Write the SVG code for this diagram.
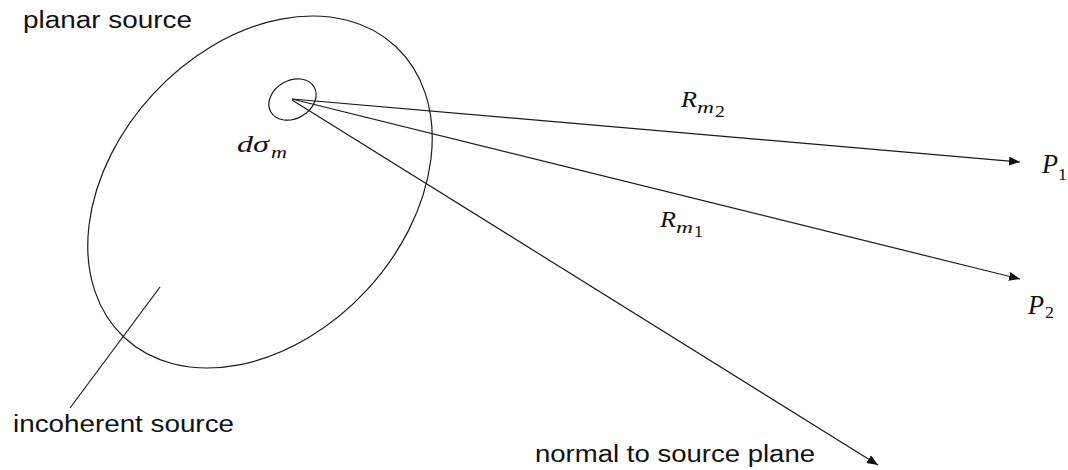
<svg xmlns="http://www.w3.org/2000/svg" width="1068" height="470" viewBox="0 0 1068 470">
<defs>
<style>
.ln{fill:none;stroke:#1a1a1a;stroke-width:1.2}
.lbl{font-family:"Liberation Sans",Arial,sans-serif;font-size:23px;fill:#111}
.m{font-family:"Liberation Serif","Times New Roman",serif;font-style:italic;font-size:24px;fill:#111}
.pm{font-family:"Liberation Serif","Times New Roman",serif;font-style:italic;font-size:27px;fill:#111}
.sub{font-family:"Liberation Serif","Times New Roman",serif;font-style:italic;font-size:17px;fill:#111}
.num{font-family:"Liberation Serif","Times New Roman",serif;font-size:17px;fill:#111}
</style>
<marker id="ah" markerUnits="userSpaceOnUse" markerWidth="12" markerHeight="10" refX="11" refY="4.5" orient="auto">
<path d="M0,0 L11,4.5 L0,9 z" fill="#111"/>
</marker>
</defs>
<rect width="1068" height="470" fill="#fff"/>
<g id="planar-source">
<ellipse class="ln" cx="260" cy="192" rx="199" ry="145" transform="rotate(-47 260 192)"/>
<text class="lbl" x="23" y="28" textLength="169" lengthAdjust="spacingAndGlyphs">planar source</text>
</g>
<g id="element">
<ellipse class="ln" cx="292.5" cy="99.5" rx="25" ry="19" transform="rotate(-30 292.5 99.5)"/>
<text class="m" x="237" y="152" textLength="32" lengthAdjust="spacingAndGlyphs">dσ</text>
<text class="sub" x="271" y="158" textLength="16" lengthAdjust="spacingAndGlyphs">m</text>
</g>
<g id="incoherent-source">
<text class="lbl" x="13" y="432" textLength="221" lengthAdjust="spacingAndGlyphs">incoherent source</text>
</g>
<g id="P1">
<text class="pm" x="1042" y="173" textLength="16" lengthAdjust="spacingAndGlyphs">P</text>
<text class="num" x="1058" y="180" textLength="9" lengthAdjust="spacingAndGlyphs">1</text>
</g>
<g id="P2">
<text class="pm" x="1028" y="314" textLength="16" lengthAdjust="spacingAndGlyphs">P</text>
<text class="num" x="1045" y="318" textLength="9" lengthAdjust="spacingAndGlyphs">2</text>
</g>
<g id="normal-label">
<text class="lbl" x="535" y="462" textLength="280" lengthAdjust="spacingAndGlyphs">normal to source plane</text>
</g>
<g id="connectors">
<line class="ln" x1="292" y1="99" x2="1020" y2="162" marker-end="url(#ah)"/>
<line class="ln" x1="292" y1="99" x2="1020" y2="279" marker-end="url(#ah)"/>
<line class="ln" x1="292" y1="100" x2="878" y2="465" marker-end="url(#ah)"/>
<line class="ln" x1="160" y1="287" x2="70" y2="408"/>
<text class="m" x="681" y="107" textLength="16" lengthAdjust="spacingAndGlyphs">R</text>
<text class="sub" x="697" y="113" textLength="17" lengthAdjust="spacingAndGlyphs">m</text>
<text class="num" x="715" y="117" textLength="10" lengthAdjust="spacingAndGlyphs">2</text>
<text class="m" x="660" y="227" textLength="16" lengthAdjust="spacingAndGlyphs">R</text>
<text class="sub" x="676" y="233" textLength="17" lengthAdjust="spacingAndGlyphs">m</text>
<text class="num" x="694" y="237" textLength="9" lengthAdjust="spacingAndGlyphs">1</text>
</g>
</svg>
